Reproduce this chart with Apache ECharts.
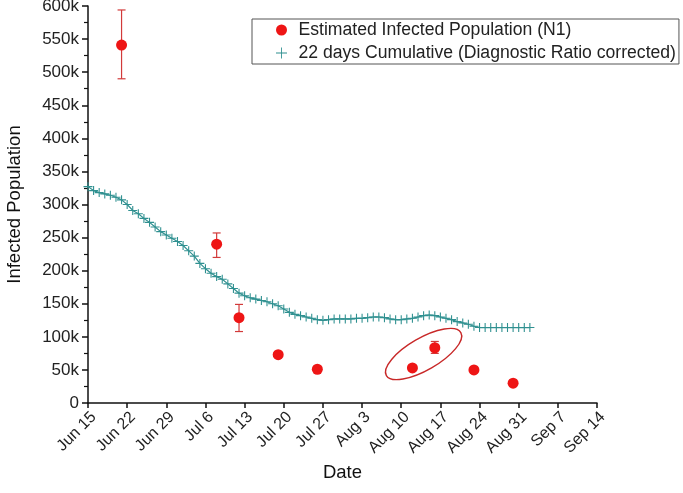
<!DOCTYPE html>
<html><head><meta charset="utf-8">
<script src="https://cdn.jsdelivr.net/npm/echarts@6/dist/echarts.min.js"></script>
<style>html,body{margin:0;padding:0;background:#fff}#c{width:683px;height:493px}</style>
</head><body><div id="c"></div>
<script>
// ---- data ----
const startDate = '2020-06-15';
const tickLabels = ['Jun 15','Jun 22','Jun 29','Jul 6','Jul 13','Jul 20','Jul 27','Aug 3','Aug 10','Aug 17','Aug 24','Aug 31','Sep 7','Sep 14'];
const estName = 'Estimated Infected Population (N1)';
const cumName = '22 days Cumulative (Diagnostic Ratio corrected)';
const estDates = ['2020-06-21','2020-07-08','2020-07-12','2020-07-19','2020-07-26','2020-08-12','2020-08-16','2020-08-23','2020-08-30'];
const estValues = [541000,240000,129000,73000,51000,53000,83500,50000,30000];
const estLow  = [490000,220000,108000,69000,null,null,75000,null,null];
const estHigh = [594000,257000,149000,77000,null,null,93000,null,null];
const cumStartDate = '2020-06-15';
const cumValues = [327,321,318,316,314,311,307,300,291,286,279,273,266,259,254,249,244,238,230,222,
  211,203,196,191,187,180,173,166,162,159,157,155,153,150,147,142,137,134,132,130,
  128,126,125,126,127,127,127,127,128,128,129,130,130,129,127,126,126,127,128,130,
  132,133,132,130,128,126,123,121,119,116,114,114,114,114,114,114,114,114,114,114].map(v => v * 1000);
const ellipseCenter = ['2020-08-14', 74000];

// ---- helpers ----
const DAY = 86400000;
const dayOf = d => Math.round((Date.parse(d) - Date.parse(startDate)) / DAY);
const cumStart = dayOf(cumStartDate);
const cumData = cumValues.map((v, i) => [cumStart + i, v]);
const estData = estDates.map((d, i) => [dayOf(d), estValues[i]]);
const errData = estDates.map((d, i) => [dayOf(d), estLow[i], estHigh[i]]).filter(r => r[1] != null);

const plusPath = 'path://M-0.6,-5h1.2v4.4h4.4v1.2h-4.4v4.4h-1.2v-4.4h-4.4v-1.2h4.4z';
const plusLegend = 'path://M-0.4,-5h0.8v4.6h4.6v0.8h-4.6v4.6h-0.8v-4.6h-4.6v-0.8h4.6z';
const teal = '#2f9090';
const red = '#ee1515';
const font = 'Liberation Sans, Arial, sans-serif';

const chart = echarts.init(document.getElementById('c'), null, {renderer: 'canvas'});
chart.setOption({
  animation: false,
  backgroundColor: '#fff',
  grid: {left: 88, right: 86, top: 6, bottom: 90, containLabel: false, outerBoundsMode: 'none'},
  legend: {
    left: 252, top: 19, orient: 'vertical',
    borderColor: '#555', borderWidth: 1, borderRadius: 0,
    padding: [2, 3, 2, 24], itemGap: 5,
    itemWidth: 24, itemHeight: 11,
    textStyle: {fontFamily: font, fontSize: 17.6, color: '#222', lineHeight: 18},
    data: [{name: estName, icon: 'circle'}, {name: cumName, icon: plusLegend}]
  },
  xAxis: {
    type: 'value', min: 0, max: 91, interval: 7,
    name: 'Date', nameLocation: 'middle', nameGap: 60,
    nameTextStyle: {fontFamily: font, fontSize: 18.5, color: '#111'},
    axisLine: {lineStyle: {color: '#111', width: 1.5}},
    axisTick: {length: 5, lineStyle: {color: '#111', width: 1.5}},
    splitLine: {show: false},
    axisLabel: {
      rotate: 45, fontFamily: font, fontSize: 16, color: '#222', margin: 6,
      verticalAlign: 'top',
      formatter: v => tickLabels[Math.round(v / 7)] || ''
    }
  },
  yAxis: {
    type: 'value', min: 0, max: 600000, interval: 50000,
    name: 'Infected Population', nameLocation: 'middle', nameGap: 64,
    nameTextStyle: {fontFamily: font, fontSize: 18.5, color: '#111'},
    axisLine: {show: true, lineStyle: {color: '#111', width: 1.5}},
    axisTick: {show: true, length: 6, lineStyle: {color: '#111', width: 1.5}},
    minorTick: {show: true, splitNumber: 2, length: 4, lineStyle: {color: '#111', width: 1.2}},
    splitLine: {show: false},
    axisLabel: {
      fontFamily: font, fontSize: 17, color: '#222', margin: 9,
      formatter: v => v === 0 ? '0' : (v / 1000) + 'k'
    }
  },
  series: [
    {
      name: cumName, type: 'line', data: cumData,
      symbol: plusPath, symbolSize: 9, showAllSymbol: true,
      lineStyle: {color: teal, width: 1.2},
      itemStyle: {color: teal},
      z: 2
    },
    {
      name: 'err', type: 'custom', data: errData, z: 3,
      renderItem: (params, api) => {
        const x = api.value(0);
        const lo = api.coord([x, api.value(1)]);
        const hi = api.coord([x, api.value(2)]);
        const w = 4;
        const st = {stroke: '#d23a3a', lineWidth: 1.2};
        return {type: 'group', children: [
          {type: 'line', shape: {x1: lo[0], y1: lo[1], x2: hi[0], y2: hi[1]}, style: st},
          {type: 'line', shape: {x1: lo[0]-w, y1: lo[1], x2: lo[0]+w, y2: lo[1]}, style: st},
          {type: 'line', shape: {x1: hi[0]-w, y1: hi[1], x2: hi[0]+w, y2: hi[1]}, style: st}
        ]};
      }
    },
    {
      name: estName, type: 'scatter', data: estData,
      symbol: 'circle', symbolSize: 11,
      itemStyle: {color: red, opacity: 1}, z: 4
    },
    {
      name: 'ellipse', type: 'custom', z: 5,
      data: [[dayOf(ellipseCenter[0]), ellipseCenter[1]]],
      renderItem: (params, api) => {
        const p = api.coord([api.value(0), api.value(1)]);
        return {
          type: 'ellipse', x: p[0], y: p[1], rotation: 30 * Math.PI / 180,
          shape: {cx: 0, cy: 0, rx: 43, ry: 16},
          style: {fill: 'none', stroke: '#c82828', lineWidth: 1.4}
        };
      }
    }
  ]
});
</script>
</body></html>
